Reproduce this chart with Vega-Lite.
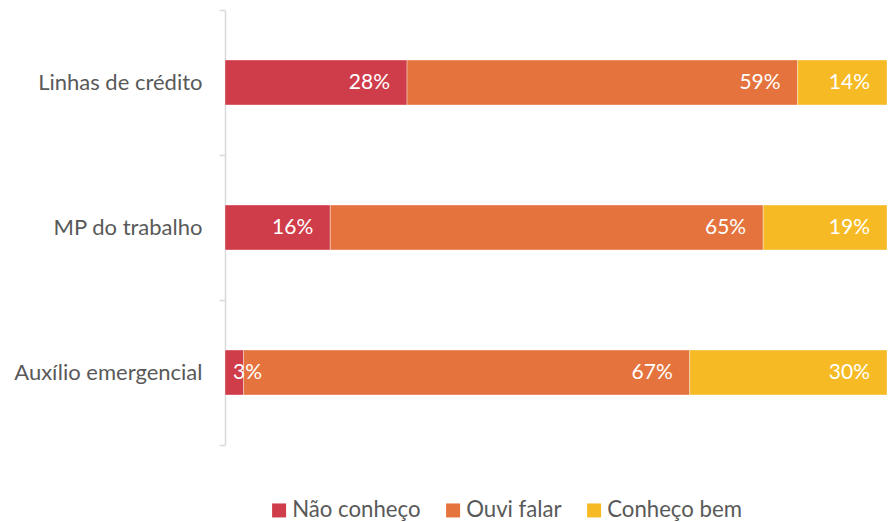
{
  "$schema": "https://vega.github.io/schema/vega-lite/v6.json",
  "width": 662,
  "height": 435,
  "autosize": {"type": "none"},
  "padding": {"left": 225, "top": 10, "right": 1, "bottom": 77},
  "background": "white",
  "config": {"view": {"stroke": null}, "font": "Lato"},
  "data": {
    "values": [
      {"item": "Linhas de crédito", "resp": "Não conheço", "ord": 1, "value": 27.5, "label": "28%"},
      {"item": "Linhas de crédito", "resp": "Ouvi falar", "ord": 2, "value": 59.0, "label": "59%"},
      {"item": "Linhas de crédito", "resp": "Conheço bem", "ord": 3, "value": 13.5, "label": "14%"},
      {"item": "MP do trabalho", "resp": "Não conheço", "ord": 1, "value": 15.9, "label": "16%"},
      {"item": "MP do trabalho", "resp": "Ouvi falar", "ord": 2, "value": 65.4, "label": "65%"},
      {"item": "MP do trabalho", "resp": "Conheço bem", "ord": 3, "value": 18.7, "label": "19%"},
      {"item": "Auxílio emergencial", "resp": "Não conheço", "ord": 1, "value": 2.8, "label": "3%"},
      {"item": "Auxílio emergencial", "resp": "Ouvi falar", "ord": 2, "value": 67.4, "label": "67%"},
      {"item": "Auxílio emergencial", "resp": "Conheço bem", "ord": 3, "value": 29.8, "label": "30%"}
    ]
  },
  "transform": [
    {"stack": "value", "groupby": ["item"], "sort": [{"field": "ord", "order": "ascending"}], "as": ["x0", "x1"]}
  ],
  "encoding": {
    "y": {
      "field": "item",
      "type": "nominal",
      "sort": ["Linhas de crédito", "MP do trabalho", "Auxílio emergencial"],
      "scale": {"paddingInner": 0, "paddingOuter": 0},
      "axis": {
        "title": null,
        "tickBand": "extent",
        "domainColor": "#d9d9d9",
        "domainWidth": 1.5,
        "tickColor": "#d9d9d9",
        "tickWidth": 1.5,
        "tickSize": 6,
        "labelPadding": 17,
        "labelFontSize": 22,
        "labelLimit": 300,
        "labelColor": "#595959",
        "labelFont": "Lato"
      }
    }
  },
  "layer": [
    {
      "mark": {"type": "bar", "height": {"band": 0.31}, "stroke": "#ffffff", "strokeWidth": 0.6, "strokeOpacity": 0.6},
      "encoding": {
        "x": {"field": "x0", "type": "quantitative", "scale": {"domain": [0, 100], "nice": false}, "axis": null},
        "x2": {"field": "x1"},
        "color": {
          "field": "resp",
          "type": "nominal",
          "sort": ["Não conheço", "Ouvi falar", "Conheço bem"],
          "scale": {"domain": ["Não conheço", "Ouvi falar", "Conheço bem"], "range": ["#CF3D4B", "#E5733D", "#F6BA24"]},
          "legend": {
            "title": null,
            "orient": "none",
            "direction": "horizontal",
            "legendX": 43,
            "legendY": 489,
            "symbolType": "square",
            "symbolSize": 196,
            "symbolStrokeWidth": 0,
            "labelFontSize": 22.2,
            "labelColor": "#595959",
            "labelFont": "Lato",
            "labelOffset": 2,
            "columnPadding": 21
          }
        }
      }
    },
    {
      "transform": [{"filter": "datum.value >= 5"}],
      "mark": {"type": "text", "align": "right", "baseline": "middle", "dx": -17, "color": "white", "fontSize": 21, "font": "Lato"},
      "encoding": {
        "x": {"field": "x1", "type": "quantitative"},
        "text": {"field": "label", "type": "nominal"}
      }
    },
    {
      "transform": [{"filter": "datum.value < 5"}],
      "mark": {"type": "text", "align": "left", "baseline": "middle", "dx": 8, "color": "white", "fontSize": 21, "font": "Lato"},
      "encoding": {
        "x": {"field": "x0", "type": "quantitative"},
        "text": {"field": "label", "type": "nominal"}
      }
    }
  ]
}
